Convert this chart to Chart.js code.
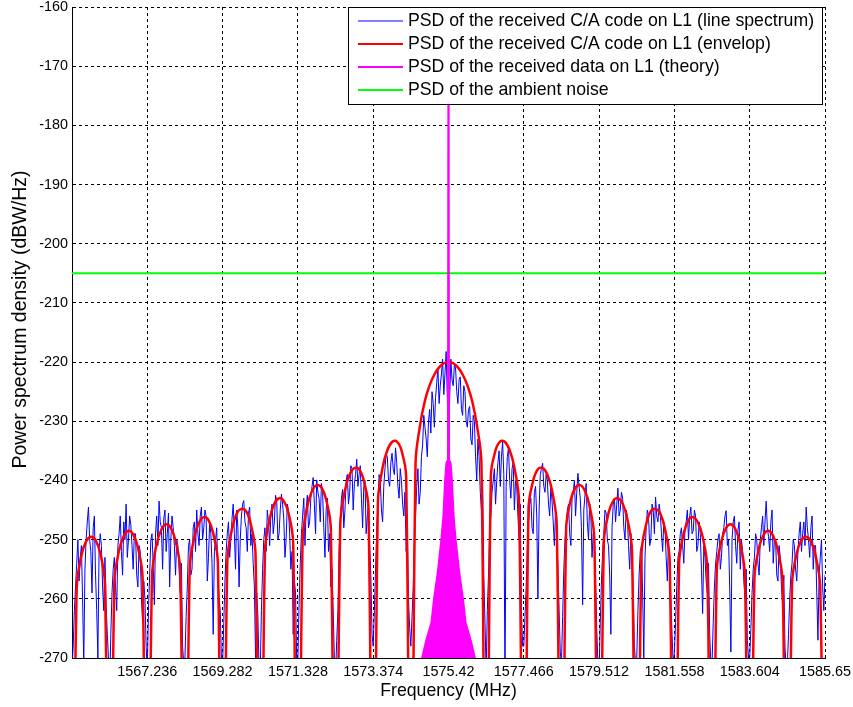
<!DOCTYPE html>
<html>
<head>
<meta charset="utf-8">
<title>PSD of the received GPS L1 signal</title>
<script src="https://cdn.jsdelivr.net/npm/chart.js@4.4.1/dist/chart.umd.min.js"></script>
<style>
  html, body { margin: 0; padding: 0; background: #fff; }
  #psdChart { display: block; }
</style>
</head>
<body>
<canvas id="psdChart" width="853" height="707"></canvas>
<script>
// Frequency span: L1 carrier +/- 10 C/A chip rates (MHz)
const fStart = 1565.19;
const fEnd = 1585.65;
const chipRate = 1.023;

const xTickValues = [1567.236, 1569.282, 1571.328, 1573.374, 1575.42, 1577.466, 1579.512, 1581.558, 1583.604, 1585.65];
const xTickLabels = ["1567.236", "1569.282", "1571.328", "1573.374", "1575.42", "1577.466", "1579.512", "1581.558", "1583.604", "1585.65"];
const yMin = -270;
const yMax = -160;
const yTitle = "Power spectrum density (dBW/Hz)";

const seriesNames = [
  "PSD of the received C/A code on L1 (line spectrum)",
  "PSD of the received C/A code on L1 (envelop)",
  "PSD of the received data on L1 (theory)",
  "PSD of the ambient noise",
];

// line spectrum, 32 samples per chip-rate lobe (dBW/Hz)
const lineSpectrum = [
  -272, -268, -262, -258, -254, -250, -257, -253, -251, -260, -271, -255, -250, -247, -244.5, -250,
  -252, -259, -248, -246, -256, -262, -270, -252, -249, -251, -258, -262, -253, -261, -266, -270,
  -275, -266, -259, -255, -253, -258, -262, -251, -249, -246, -252, -256, -247, -250, -244, -253,
  -250, -246, -247.5, -251, -255, -249, -249, -256, -258, -251, -252, -260, -264, -257, -260, -268,
  -272, -262, -256, -250, -249, -254, -261, -249, -246, -251, -243.5, -247, -248, -255, -246.5, -245,
  -252, -249, -245.5, -258, -250, -246, -248, -251, -256, -250, -251, -255, -259, -254, -268, -271,
  -270, -263, -258, -251, -250, -256, -255, -248, -247, -252, -245, -249, -251, -246, -244.5, -250,
  -248, -245, -246, -257, -253, -247, -249, -254, -266, -252, -250, -248, -256, -260, -262, -270,
  -271, -264, -257, -252, -249, -247, -253, -250, -246.5, -244, -249, -255, -245, -248, -258, -250,
  -246, -244, -243.4, -247, -248, -252, -245.5, -244.5, -251, -249, -254, -258, -270, -259, -263, -272,
  -272, -262, -255, -250, -248, -252, -245, -247, -251, -246, -244, -249, -247, -242.5, -243.5, -250,
  -249, -245, -242.3, -244, -246.5, -253, -250, -244, -245, -249, -255, -252, -266, -257, -259, -271,
  -270, -261, -254, -249, -246, -243, -251, -245, -242.5, -248, -247, -243, -241, -239.5, -244, -249,
  -239.9, -242, -243, -247, -240.5, -242, -248, -253, -245, -243, -252, -249, -258, -255, -262, -270,
  -273, -267, -262, -252, -247, -243, -241.5, -248, -245, -240, -239, -244, -242, -237.5, -238, -245,
  -240.5, -239, -236.4, -241, -239, -237.5, -243, -248, -241, -240, -249, -246, -244, -251, -256, -266,
  -268, -262, -255, -248, -244, -239, -240, -245, -247, -241, -238, -235.5, -236, -240, -241, -237,
  -235.4, -238, -239, -234.5, -237, -241, -243, -238, -240, -244, -246, -242, -252, -248, -260, -265,
  -268, -263, -258, -250, -246, -241, -238, -244, -242, -236, -234, -229, -231, -233, -236, -230,
  -228, -232, -225, -227, -231, -226, -223.5, -221, -227, -224, -222, -219.5, -225.5, -222, -218.2, -226,
  -236, -226, -219.5, -223, -224, -220.5, -221, -225, -227, -223, -222.5, -228, -229, -224, -225, -230,
  -231, -228, -227.5, -233, -234, -229, -230, -236, -240, -233, -236, -242, -245, -240, -256, -264,
  -272, -262, -256, -248, -246, -242, -240, -238, -244, -240, -237, -235, -241, -236, -233.5, -239,
  -275, -241, -236, -234.5, -240, -243, -238, -237, -245, -240, -241, -246, -250, -244, -262, -268,
  -268, -263, -258, -251, -247, -244, -243, -248, -249, -242, -241, -246, -260, -245, -239, -238,
  -237.1, -241, -242, -239, -240, -244, -246, -241, -243.5, -247, -251, -245, -248, -255, -262, -269,
  -271, -263, -255, -250, -248, -245, -244, -249, -251, -243, -242, -240, -246, -242, -238.8, -241,
  -243, -248, -261, -245, -242.5, -240.5, -247, -250, -244, -246, -253, -249, -250, -257, -265, -271,
  -272, -264, -257, -252, -249, -245, -245.5, -250, -251, -256, -266, -248, -244, -243, -247, -244,
  -241.3, -246, -245, -242, -243, -248, -250, -245, -246, -251, -255, -249, -252, -259, -268, -271,
  -270, -262, -256, -252, -251, -259, -270, -253, -248, -245, -246, -251, -250, -244, -245, -249,
  -242.8, -246, -247, -244, -245.5, -249, -252, -247, -248, -253, -257, -250, -254, -260, -266, -271,
  -269, -264, -258, -253, -252, -249, -248, -251, -254, -248, -247, -245, -250, -246, -244.5, -249,
  -248.5, -245, -246, -252, -251, -247, -249, -255, -262.5, -251, -253, -257, -259, -254, -266, -271,
  -271, -264, -258, -254, -252, -250, -249, -255, -253, -249, -248, -246, -245.1, -251, -250, -258,
  -269, -250, -247, -246, -251, -254, -248.5, -247, -255, -250, -252, -257, -260, -255, -267, -270,
  -270, -265, -259, -255, -253, -249, -250, -254, -256, -250, -248, -246, -251, -247, -243.5, -248,
  -249.5, -252, -247, -245, -254, -250, -250, -256, -257, -251, -253, -258, -261, -256, -268, -272,
  -271, -266, -260, -256, -254, -250, -251, -255, -257, -252, -249, -247, -252, -249, -247, -251,
  -244.5, -248, -250, -253, -248, -246, -255, -251, -251, -259, -267, -256, -253, -250, -258, -262,
  -256,
];

// envelope, 8 samples per lobe; nulls fall far below the axis
const envelope = [
  -330, -258.2, -252.7, -250.3, -249.5, -250.1, -252.3, -257.5,
  -330, -257.3, -251.8, -249.4, -248.5, -249.1, -251.3, -256.5,
  -330, -256.2, -250.7, -248.3, -247.4, -248.0, -250.2, -255.3,
  -330, -255.0, -249.5, -247.1, -246.2, -246.7, -248.9, -254.0,
  -330, -253.7, -248.2, -245.6, -244.8, -245.2, -247.4, -252.5,
  -330, -252.1, -246.5, -243.9, -243.0, -243.5, -245.5, -250.6,
  -330, -250.1, -244.4, -241.8, -240.8, -241.2, -243.2, -248.2,
  -330, -247.5, -241.7, -239.0, -237.9, -238.1, -240.0, -244.8,
  -330, -243.8, -237.8, -234.9, -233.5, -233.4, -234.9, -239.3,
  -330, -237.1, -230.5, -226.5, -223.9, -222.1, -220.9, -220.2,
  -220,
  -220.2, -220.9, -222.1, -223.9, -226.5, -230.5, -237.1, -330,
  -239.3, -234.9, -233.4, -233.5, -234.9, -237.8, -243.8, -330,
  -244.8, -240.0, -238.1, -237.9, -239.0, -241.7, -247.5, -330,
  -248.2, -243.2, -241.2, -240.8, -241.8, -244.4, -250.1, -330,
  -250.6, -245.5, -243.5, -243.0, -243.9, -246.5, -252.1, -330,
  -252.5, -247.4, -245.2, -244.8, -245.6, -248.2, -253.7, -330,
  -254.0, -248.9, -246.7, -246.2, -247.1, -249.5, -255.0, -330,
  -255.3, -250.2, -248.0, -247.4, -248.3, -250.7, -256.2, -330,
  -256.5, -251.3, -249.1, -248.5, -249.4, -251.8, -257.3, -330,
  -257.5, -252.3, -250.1, -249.5, -250.3, -252.7, -258.2, -330,
];

// 50 bps navigation data around the carrier
const dataFreq = [1574.62, 1574.81, 1574.95, 1575.02, 1575.12, 1575.22, 1575.275, 1575.32, 1575.357, 1575.40,
  1575.42,
  1575.44, 1575.483, 1575.52, 1575.565, 1575.62, 1575.72, 1575.82, 1575.89, 1576.03, 1576.22];
const dataPsd = [-272, -267, -264, -260, -255.6, -250, -246, -240, -237, -236.5,
  -100,
  -236.5, -237, -240, -246, -250, -255.6, -260, -264, -267, -272];

const noiseLevel = -205;

const atStep = (vals, step) => vals.map((v, i) => ({ x: fStart + i * step, y: v }));

const legendColors = ["#0000ff", "#ff0000", "#ff00ff", "#00ff00"];
const legendWidths = [1.2, 2, 2, 2];
const fontFamily = "'Liberation Sans', Arial, sans-serif";

// boxed legend in the top right corner, plus the rotated y-axis title
const annotate = {
  id: "annotate",
  afterDraw(chart) {
    const { ctx, chartArea } = chart;
    const right = chartArea.right - 2;
    const left = right - 475;
    const top = chartArea.top;
    const h = 98;
    ctx.save();
    ctx.fillStyle = "#fff";
    ctx.fillRect(left, top, right - left, h);
    ctx.strokeStyle = "#000";
    ctx.lineWidth = 1;
    ctx.strokeRect(left + 0.5, top + 0.5, right - left - 1, h - 1);
    ctx.font = "17.7px " + fontFamily;
    ctx.textBaseline = "middle";
    ctx.fillStyle = "#000";
    seriesNames.forEach((name, i) => {
      const y = top + 14 + i * 23;
      ctx.beginPath();
      ctx.strokeStyle = legendColors[i];
      ctx.lineWidth = legendWidths[i];
      ctx.moveTo(left + 10, y);
      ctx.lineTo(left + 55, y);
      ctx.stroke();
      ctx.fillText(name, left + 60, y);
    });

    ctx.translate(21, (chartArea.top + chartArea.bottom) / 2 - 13);
    ctx.rotate(-Math.PI / 2);
    ctx.font = "19.5px " + fontFamily;
    ctx.textAlign = "center";
    ctx.fillText(yTitle, 0, 0);
    ctx.restore();
  },
};

Chart.defaults.font.family = fontFamily;
Chart.defaults.color = "#000";

const gridOpts = { color: "#000", lineWidth: 1, drawTicks: false };
const borderOpts = { color: "#000", width: 1, dash: [3, 3] };

// keep tick labels from pushing the plot area around
const noEdgePadding = (scale) => {
  scale.paddingLeft = 0;
  scale.paddingRight = 0;
  scale.paddingTop = 0;
  scale.paddingBottom = 0;
};

const ctx = document.getElementById("psdChart").getContext("2d");
new Chart(ctx, {
  type: "line",
  data: {
    datasets: [
      {
        label: seriesNames[0],
        data: atStep(lineSpectrum, chipRate / 32),
        borderColor: "#0000ff",
        borderWidth: 1,
        order: 4,
      },
      {
        label: seriesNames[1],
        data: atStep(envelope, chipRate / 8),
        borderColor: "#ff0000",
        borderWidth: 2.5,
        tension: 0.4,
        order: 3,
      },
      {
        label: seriesNames[2],
        data: dataFreq.map((f, i) => ({ x: f, y: dataPsd[i] })),
        borderColor: "#ff00ff",
        backgroundColor: "#ff00ff",
        borderWidth: 1.5,
        fill: "start",
        order: 1,
      },
      {
        label: seriesNames[3],
        data: [{ x: fStart, y: noiseLevel }, { x: fEnd, y: noiseLevel }],
        borderColor: "#00ff00",
        borderWidth: 2,
        order: 2,
      },
    ],
  },
  options: {
    responsive: false,
    animation: false,
    layout: { padding: { left: 0, right: 28, top: 7, bottom: 0 } },
    elements: { point: { radius: 0 }, line: { tension: 0 } },
    datasets: { line: { clip: 0 } },
    plugins: {
      legend: { display: false },
      tooltip: { enabled: false },
    },
    scales: {
      x: {
        type: "linear",
        min: fStart,
        max: fEnd,
        afterBuildTicks: (scale) => {
          scale.ticks = xTickValues.map((v) => ({ value: v }));
        },
        ticks: {
          callback: (v, i) => xTickLabels[i],
          font: { size: 14.4 },
          padding: 5,
          maxRotation: 0,
          autoSkip: false,
        },
        grid: gridOpts,
        border: borderOpts,
        title: {
          display: true,
          text: "Frequency (MHz)",
          font: { size: 17.7 },
          padding: { top: 0, bottom: 5 },
        },
        afterFit: (scale) => {
          noEdgePadding(scale);
          scale.height = 49;
        },
      },
      y: {
        min: yMin,
        max: yMax,
        ticks: {
          stepSize: 10,
          font: { size: 14.4, lineHeight: 1 },
          padding: 4,
          callback: (v) => String(v),
        },
        grid: gridOpts,
        border: borderOpts,
        afterFit: (scale) => {
          noEdgePadding(scale);
          scale.width = 72;
        },
      },
    },
  },
  plugins: [annotate],
});
</script>
</body>
</html>
